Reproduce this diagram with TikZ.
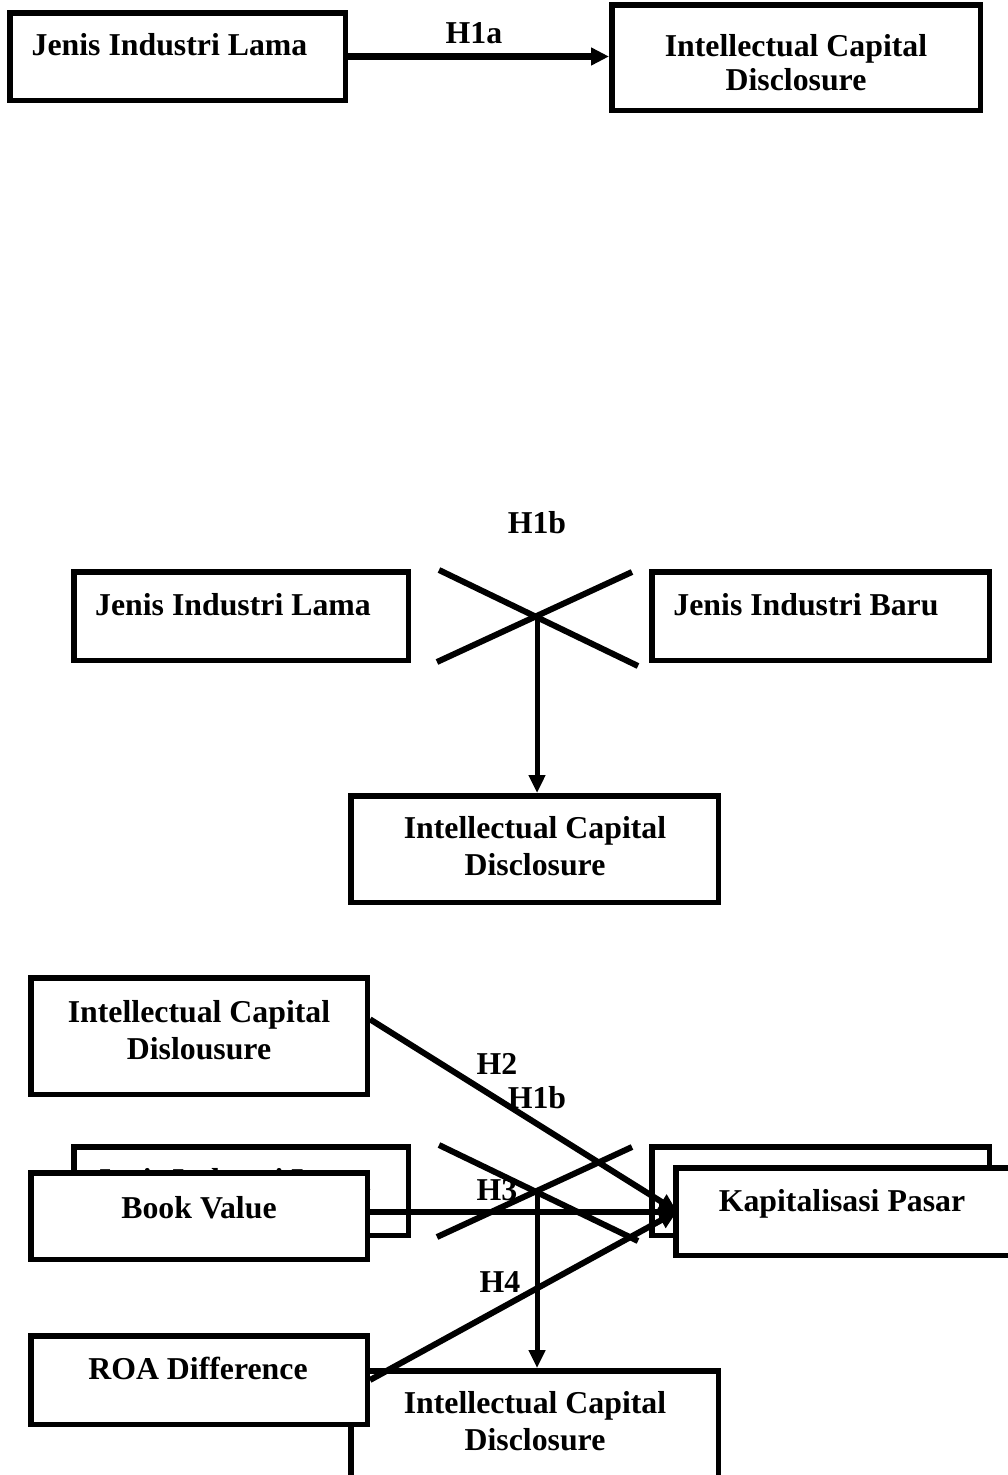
\documentclass[tikz,border=0pt]{standalone}
\usepackage{fontspec}
\setmainfont{Liberation Serif}
\usetikzlibrary{arrows.meta,calc}
\begin{document}
\begin{tikzpicture}[x=1pt,y=-1pt,
  box/.style 2 args={draw, line width=5.5pt, fill=white, inner sep=0pt, minimum width=#1, minimum height=#2},
  lbl/.style={font=\bfseries\fontsize{31.8}{36}\selectfont, inner sep=0pt, anchor=base},
  arr/.style={-{Triangle[length=18pt,width=17pt]}, line width=6pt},
  stem/.style={-{Triangle[length=18pt,width=16pt]}, line width=5pt},
  crossline/.style={line width=6pt}]
\useasboundingbox (0,0) rectangle (1008,1475);
\clip (0,0) rectangle (1008,1475);
\fill[white] (0,0) rectangle (1008,1475);

% ---------- top: H1a ----------
\node[box={335.5pt}{87.5pt}] (a1) at (177.5,56.5) {};
\node[lbl] (a1t) at (169.5,55) {Jenis Industri Lama};
\node[box={368.5pt}{105.5pt}] (b1) at (796,57.5) {};
\node[lbl] (b1t1) at (796,56) {Intellectual Capital};
\node[lbl] (b1t2) at (796,90) {Disclosure};
\draw[arr, line width=6.5pt] (a1.east) -- (a1.east -| b1.west);
\node[lbl] (h1a) at (474,43) {H1a};

% ---------- middle: H1b ----------
\node[box={334.5pt}{88.5pt}] (a2) at (241,616) {};
\node[lbl] (a2t) at (233,615) {Jenis Industri Lama};
\node[box={337.5pt}{88.5pt}] (b2) at (820.5,616) {};
\node[lbl] (b2t) at (806,615) {Jenis Industri Baru};
\node[box={367.5pt}{106.5pt}] (c2) at (534.5,849) {};
\node[lbl] (c2t1) at (535,838) {Intellectual Capital};
\node[lbl] (c2t2) at (535,875) {Disclosure};
\node[lbl] (h1b2) at (537,533) {H1b};
\coordinate (x2) at (537,617);
\coordinate (x2nw) at (439,570);
\coordinate (x2se) at (638,666);
\coordinate (x2ne) at (632,572);
\coordinate (x2sw) at (437,662);
\draw[crossline] (x2nw) -- (x2se);
\draw[crossline] (x2ne) -- (x2sw);
\draw[stem] (x2) -- (x2 |- c2.north);

% ---------- bottom: copy of the H1b diagram ----------
\node[box={334.5pt}{88.5pt}] (a3) at (241,1191) {};
\node[lbl] (a3t) at (233,1190) {Jenis Industri Lama};
\node[box={337.5pt}{88.5pt}] (b3) at (820.5,1191) {};
\node[lbl] (b3t) at (806,1190) {Jenis Industri Baru};
\node[box={367.5pt}{106.5pt}] (c3) at (534.5,1424) {};
\node[lbl] (c3t1) at (535,1413) {Intellectual Capital};
\node[lbl] (c3t2) at (535,1450) {Disclosure};
\node[lbl] (h1b3) at (537,1108) {H1b};
\coordinate (x3) at (537,1192);
\coordinate (x3nw) at (439,1145);
\coordinate (x3se) at (638,1241);
\coordinate (x3ne) at (632,1147);
\coordinate (x3sw) at (437,1237);
\draw[crossline] (x3nw) -- (x3se);
\draw[crossline] (x3ne) -- (x3sw);
\draw[stem] (x3) -- (x3 |- c3.north);

% ---------- bottom: market capitalisation model ----------
\node[box={336.5pt}{116.5pt}] (icd) at (199,1036) {};
\node[lbl] (icdt1) at (199,1022) {Intellectual Capital};
\node[lbl] (icdt2) at (199,1059) {Dislousure};
\node[box={336.5pt}{86.5pt}] (bv) at (199,1216) {};
\node[lbl] (bvt) at (199,1218) {Book Value};
\node[box={361.5pt}{87.5pt}] (kap) at (856.5,1211.5) {};
\node[lbl] (kapt) at (842,1211) {Kapitalisasi Pasar};
\node[box={336.5pt}{88.5pt}] (roa) at (199,1380) {};
\node[lbl] (roat) at (198,1379) {ROA Difference};

\coordinate (kin) at ($(kap.west)+(4,0)$);
\coordinate (h2s) at ($(icd.north east)!0.363!(icd.south east)$);
\draw[arr] (h2s) -- (kin);
\draw[arr] (bv.east |- kin) -- (kin);
\draw[arr] (roa.east) -- (kin);
\node[lbl] (h2) at (497,1074) {H2};
\node[lbl] (h3) at (497,1200) {H3};
\node[lbl] (h4) at (500,1292) {H4};
\end{tikzpicture}
\end{document}
